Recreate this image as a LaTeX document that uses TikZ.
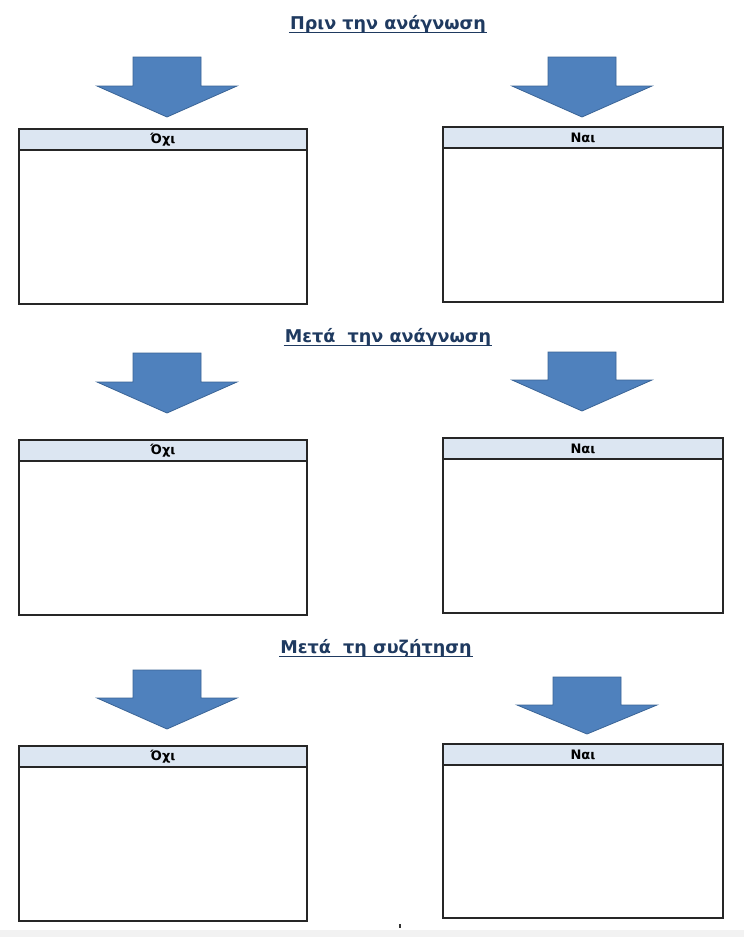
\documentclass[tikz,border=0pt]{standalone}
\usepackage{fontspec}
\setmainfont{DejaVu Sans}
\definecolor{titleblue}{HTML}{1F3A60}
\definecolor{hdrfill}{HTML}{DCE6F2}
\definecolor{arrfill}{HTML}{4F81BD}
\definecolor{arredge}{HTML}{3A6496}
\begin{document}
\begin{tikzpicture}[x=1pt,y=-1pt,
  titletext/.style={font=\fontsize{17.6}{20}\selectfont\bfseries, text=titleblue, inner sep=1pt, anchor=base},
  hdrtext/.style={font=\fontsize{13}{15}\selectfont\bfseries, inner sep=0pt},
  boxline/.style={draw=black!85, line width=1.4pt},
  hdr/.style={fill=hdrfill, draw=black!85, line width=1.4pt},
  arr/.style={fill=arrfill, draw=arredge, line width=0.8pt, line join=miter}]
\useasboundingbox (0,0) rectangle (744,937);
\fill[white] (0,0) rectangle (744,937);
\fill[black!5] (0,930) rectangle (744,937);
% titles
\node[titletext] (t1) at (388,29) {Πριν την ανάγνωση};
\node[titletext] (t2) at (388,342) {Μετά\ \ την ανάγνωση};
\node[titletext] (t3) at (376,653) {Μετά\ \ τη συζήτηση};
\foreach \t in {t1,t2,t3}{\draw[titleblue, line width=1.3pt] ([yshift=-3.5pt]\t.base west) -- ([yshift=-3.5pt]\t.base east);}
% arrows: \myarrow{cx}{top}{shaftbottom}{tip}
\newcommand{\myarrow}[4]{%
  \draw[arr] (#1-34,#2) -- (#1+34,#2) -- (#1+34,#3) -- (#1+70,#3) -- (#1,#4) -- (#1-70,#3) -- (#1-34,#3) -- cycle;}
\myarrow{167}{57}{86}{117}
\myarrow{582}{57}{86}{117}
\myarrow{167}{353}{382}{413}
\myarrow{582}{352}{380}{411}
\myarrow{167}{670}{698}{729}
\myarrow{587}{677}{705}{734}
% boxes
\newcommand{\mybox}[6]{%
  \draw[boxline] (#2,#4) rectangle (#3,#5);
  \draw[hdr] (#2,#4) rectangle (#3,#4+21);
  \node[hdrtext] (#1) at ({(#2+#3)/2},#4+10.5) {#6};}
\mybox{b1l}{19}{307}{129}{304}{Όχι}
\mybox{b1r}{443}{723}{127}{302}{Ναι}
\mybox{b2l}{19}{307}{440}{615}{Όχι}
\mybox{b2r}{443}{723}{438}{613}{Ναι}
\mybox{b3l}{19}{307}{746}{921}{Όχι}
\mybox{b3r}{443}{723}{744}{918}{Ναι}
\fill[black!80] (399.2,924) rectangle (400.8,928);
\end{tikzpicture}
\end{document}
